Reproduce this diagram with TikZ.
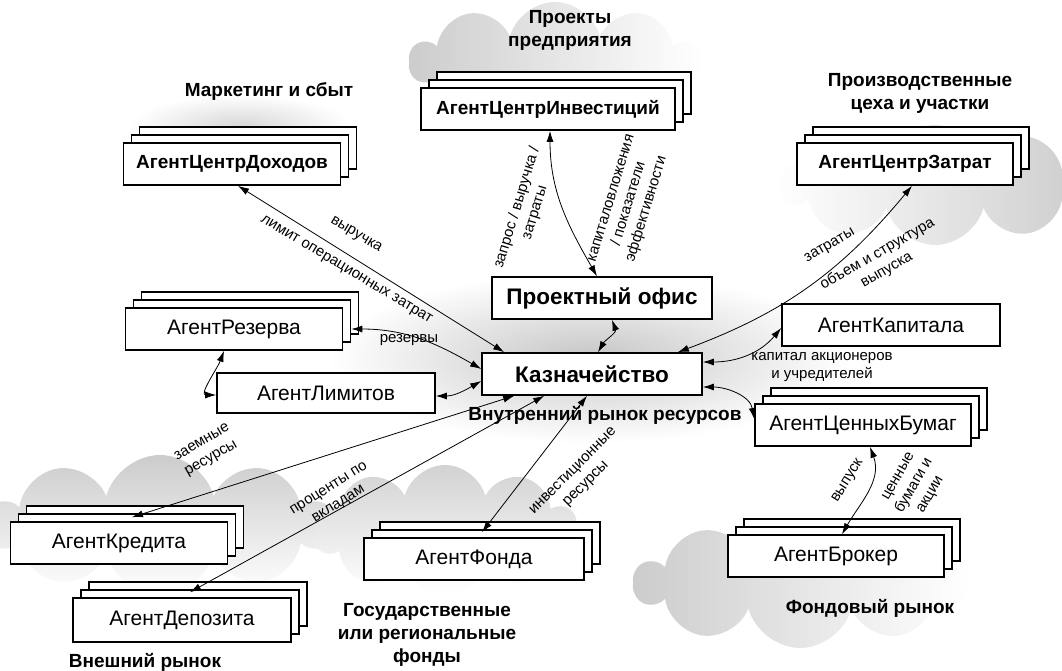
\documentclass[tikz,border=0pt]{standalone}
\usepackage{fontspec}
\setmainfont{Liberation Sans}
\usepackage{tikz}
\usetikzlibrary{arrows.meta, shapes.symbols, shadows}

\begin{document}
\begin{tikzpicture}[x=1pt, y=-1pt,
    agent/.style={draw, line width=1.6pt, fill=white, minimum width=217pt, minimum height=42pt, inner sep=0pt, font=\fontsize{21}{24}\selectfont},
    agentstack/.style={agent,
        copy shadow={shadow xshift=16pt, shadow yshift=16pt, fill=white, draw=black, line width=1.6pt},
        copy shadow={shadow xshift=8pt, shadow yshift=8pt, fill=white, draw=black, line width=1.6pt}},
    boldname/.style={font=\bfseries\fontsize{19}{22}\selectfont},
    hub/.style={agent, minimum width=220pt, font=\bfseries\fontsize{22.5}{25}\selectfont},
    zone/.style={font=\bfseries\fontsize{19}{23}\selectfont, align=center, inner sep=0pt},
    lbl/.style={font=\fontsize{15}{18.5}\selectfont, align=center, inner sep=0pt},
    link/.style={<->, >={Latex[length=11pt,width=7pt]}, line width=0.8pt},
    cloudbg/.style={cloud, cloud puffs=10, aspect=2.4, draw=none, inner sep=0pt}
]
    \useasboundingbox (0,0) rectangle (1062,671);

    % clouds
    \node[cloudbg, minimum width=290pt, minimum height=120pt, left color=gray!40, right color=white] (cloudTop) at (555,62) {};
    \node[cloudbg, minimum width=310pt, minimum height=120pt, left color=white, right color=gray!40] (cloudZat) at (935,185) {};
    \node[cloudbg, minimum width=345pt, minimum height=140pt, top color=gray!40, bottom color=white] (cloudKre) at (160,525) {};
    \node[cloudbg, minimum width=265pt, minimum height=130pt, top color=gray!35, bottom color=white] (cloudFon) at (445,530) {};
    \node[cloudbg, minimum width=330pt, minimum height=130pt, left color=gray!40, right color=white] (cloudBro) at (800,583) {};
    \shade[inner color=gray!45, outer color=white] (590,358) ellipse [x radius=260pt, y radius=85pt];
    \shade[inner color=gray!30, outer color=white] (240,125) ellipse [x radius=110pt, y radius=30pt];

    % agents
    \node[agentstack, boldname] (doh) at (232,164) {АгентЦентрДоходов};
    \node[agentstack, boldname, minimum width=254pt] (inv) at (548,109) {АгентЦентрИнвестиций};
    \node[agentstack, boldname, minimum width=216pt] (zat) at (905,164) {АгентЦентрЗатрат};
    \node[hub] (po) at (602,298) {Проектный офис};
    \node[hub] (kaz) at (592,374) {Казначейство};
    \node[agentstack] (rez) at (234,329) {АгентРезерва};
    \node[agent, minimum width=218pt, minimum height=40pt] (lim) at (326,393) {АгентЛимитов};
    \node[agent, minimum width=218pt] (kap) at (891,325) {АгентКапитала};
    \node[agentstack, minimum width=216pt] (cb) at (863,425) {АгентЦенныхБумаг};
    \node[agentstack, minimum width=216pt] (bro) at (836,556) {АгентБрокер};
    \node[agentstack] (kre) at (119,543) {АгентКредита};
    \node[agentstack, minimum width=218pt, minimum height=44pt] (dep) at (182,620) {АгентДепозита};
    \node[agentstack, minimum width=220pt] (fon) at (474,559) {АгентФонда};

    % links
    \draw[link] ([xshift=6pt]doh.south) -- ([xshift=23pt]kaz.north west);
    \draw[link] ([xshift=2pt]inv.south) to[out=-90, in=120] ([xshift=-5pt]po.north);
    \draw[link] ([xshift=10pt]po.south) to[out=-70, in=60] ([xshift=6pt]kaz.north);
    \draw[link] ([xshift=-25pt]kaz.north east) to[bend right=15] ([xshift=7pt]zat.south);
    \draw[link] ([yshift=12pt]kaz.east) to[out=0, in=-130] ([yshift=-3pt]kap.west);
    \draw[link] ([yshift=-13pt]kaz.east) to[out=0, in=100] ([yshift=6pt]cb.west);
    \draw[link] ([xshift=7pt]cb.south) to[out=-70, in=60] ([xshift=6pt]bro.north);
    \draw[link] ([xshift=8pt]rez.east) to[out=0, in=150] ([yshift=5pt]kaz.west);
    \draw[link] ([yshift=-3pt]lim.east) to[out=0, in=-150] ([yshift=-7pt]kaz.west);
    \draw[link] ([xshift=-10pt]rez.south) to[out=-110, in=180] ([yshift=-2pt]lim.west);
    \draw[link] ([xshift=13pt, yshift=4pt]kre.north) -- ([xshift=33pt]kaz.south west);
    \draw[link] ([xshift=8pt, yshift=5pt]dep.north) -- ([xshift=63pt]kaz.south west);
    \draw[link] ([xshift=8pt, yshift=5pt]fon.north) -- ([xshift=-5pt]kaz.south);

    % link labels
    \node[lbl, rotate=-31] (lVyr) at (356,235) {выручка};
    \node[lbl, rotate=-31] (lLimit) at (346,270) {лимит операционных затрат};
    \node[lbl, rotate=73] (lZapros) at (526,210) {запрос / выручка /\\затраты};
    \node[lbl, rotate=73] (lKapVl) at (630,204) {капиталовложения\\/ показатели\\эффективности};
    \node[lbl, rotate=30] (lZatr) at (830,246) {затраты};
    \node[lbl, rotate=30] (lObem) at (882,262) {объем и структура\\выпуска};
    \node[lbl] (lKapital) at (822,367) {капитал акционеров\\и учредителей};
    \node[lbl] (lRez) at (409,340) {резервы};
    \node[lbl, rotate=30] (lZaem) at (207,451) {заемные\\ресурсы};
    \node[lbl, rotate=32] (lProc) at (334,497) {проценты по\\вкладам};
    \node[lbl, rotate=45] (lInv) at (580,478) {инвестиционные\\ресурсы};
    \node[lbl, rotate=58] (lVyp) at (848,481) {выпуск};
    \node[lbl, rotate=60] (lCen) at (915,486) {ценные\\бумаги и\\акции};

    % zones
    \node[zone] (tMark) at (269,92) {Маркетинг и сбыт};
    \node[zone] (tProj) at (570,30) {Проекты\\предприятия};
    \node[zone] (tProd) at (920,93) {Производственные\\цеха и участки};
    \node[zone] (tVnutr) at (605,415) {Внутренний рынок ресурсов};
    \node[zone] (tVnesh) at (145,662) {Внешний рынок};
    \node[zone] (tGos) at (427,635) {Государственные\\или региональные\\фонды};
    \node[zone] (tFond) at (870,608) {Фондовый рынок};
\end{tikzpicture}
\end{document}
